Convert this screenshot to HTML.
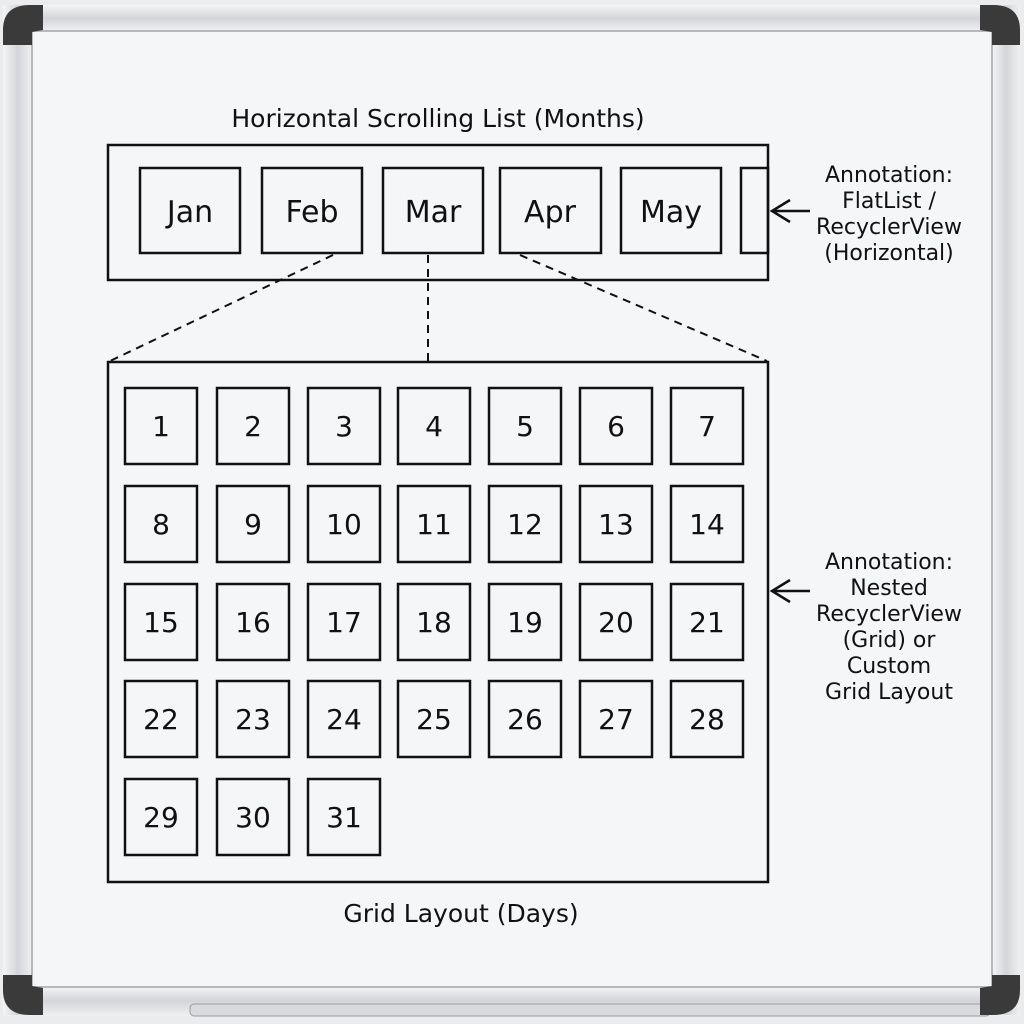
<!DOCTYPE html>
<html><head><meta charset="utf-8"><style>
html,body{margin:0;padding:0;background:#e9eaec;}
svg{display:block}
text{font-family:"Comic Sans MS","DejaVu Sans","Liberation Sans",sans-serif;fill:#111;}
</style></head><body>
<svg width="1024" height="1024" viewBox="0 0 1024 1024" xmlns="http://www.w3.org/2000/svg">
<defs>
<linearGradient id="fh" x1="0" y1="0" x2="0" y2="1"><stop offset="0" stop-color="#f4f5f6"/><stop offset="0.5" stop-color="#d3d5d8"/><stop offset="1" stop-color="#eef0f1"/></linearGradient>
<linearGradient id="fv" x1="0" y1="0" x2="1" y2="0"><stop offset="0" stop-color="#f4f5f6"/><stop offset="0.5" stop-color="#d3d5d8"/><stop offset="1" stop-color="#eef0f1"/></linearGradient>
</defs>
<rect x="0" y="0" width="1024" height="1024" fill="#ebecee"/>
<rect x="3" y="5" width="1017" height="26" fill="url(#fh)"/>
<rect x="3" y="986" width="1017" height="30" fill="url(#fh)"/>
<rect x="3" y="5" width="29" height="1010" fill="url(#fv)"/>
<rect x="992" y="5" width="28" height="1010" fill="url(#fv)"/>
<rect x="32" y="31" width="960" height="956" fill="#f5f6f7" stroke="#b5b8bc" stroke-width="2"/>
<rect x="190" y="1004" width="800" height="12" rx="4" fill="#d8dadd" stroke="#9a9da1"/>
<path d="M3,45 L3,30 Q3,5 30,5 L43,5 L43,30 L32,32 L32,45 Z" fill="#3a3a3a"/>
<path d="M1020,45 L1020,30 Q1020,5 993,5 L980,5 L980,30 L992,32 L992,45 Z" fill="#3a3a3a"/>
<path d="M3,975 L3,990 Q3,1015 30,1015 L43,1015 L43,988 L32,986 L32,975 Z" fill="#3a3a3a"/>
<path d="M1020,975 L1020,990 Q1020,1015 993,1015 L980,1015 L980,988 L992,986 L992,975 Z" fill="#3a3a3a"/>

<g fill="none" stroke="#111" stroke-width="2.5">
<rect x="108" y="145" width="660" height="135"/>
<rect x="140" y="168" width="100" height="85"/>
<rect x="262" y="168" width="100" height="85"/>
<rect x="383" y="168" width="100" height="85"/>
<rect x="500" y="168" width="101" height="85"/>
<rect x="621" y="168" width="100" height="85"/>
<rect x="741" y="168" width="27" height="85"/>
<rect x="108" y="362" width="660" height="520"/>
<path d="M810,211 L772,211 M790,200 L772,211 L790,222"/>
<path d="M810,591 L772,591 M790,580 L772,591 L790,602"/>
</g>
<g stroke="#111" stroke-width="2" stroke-dasharray="8,6">
<line x1="333" y1="255" x2="110" y2="361"/>
<line x1="428" y1="255" x2="428" y2="361"/>
<line x1="520" y1="255" x2="767" y2="361"/>
</g>
<text x="438" y="127" font-size="25" text-anchor="middle">Horizontal Scrolling List (Months)</text>
<g font-size="30" text-anchor="middle">
<text x="190" y="222">Jan</text><text x="312" y="222">Feb</text><text x="433" y="222">Mar</text><text x="550" y="222">Apr</text><text x="671" y="222">May</text>
</g>
<g font-size="22" text-anchor="middle">
<text x="889" y="182">Annotation:</text><text x="889" y="208">FlatList /</text><text x="889" y="234">RecyclerView</text><text x="889" y="260">(Horizontal)</text>
<text x="889" y="569">Annotation:</text><text x="889" y="595">Nested</text><text x="889" y="621">RecyclerView</text><text x="889" y="647">(Grid) or</text><text x="889" y="673">Custom</text><text x="889" y="699">Grid Layout</text>
</g>
<text x="461" y="922" font-size="25" text-anchor="middle">Grid Layout (Days)</text>
<g id="cells" fill="none" stroke="#111" stroke-width="2.5"></g>
<g id="nums" font-size="28" text-anchor="middle"></g>
</svg>
<script>
var xs=[125,217,308,398,489,580,671],ys=[388,486,584,681,779];
var c=document.getElementById('cells'),n=document.getElementById('nums'),ns="http://www.w3.org/2000/svg";
for(var d=1;d<=31;d++){var i=(d-1)%7,j=Math.floor((d-1)/7);
var r=document.createElementNS(ns,'rect');r.setAttribute('x',xs[i]);r.setAttribute('y',ys[j]);r.setAttribute('width',72);r.setAttribute('height',76);c.appendChild(r);
var t=document.createElementNS(ns,'text');t.setAttribute('x',xs[i]+36);t.setAttribute('y',ys[j]+48);t.textContent=d;n.appendChild(t);}
</script>
</body></html>
